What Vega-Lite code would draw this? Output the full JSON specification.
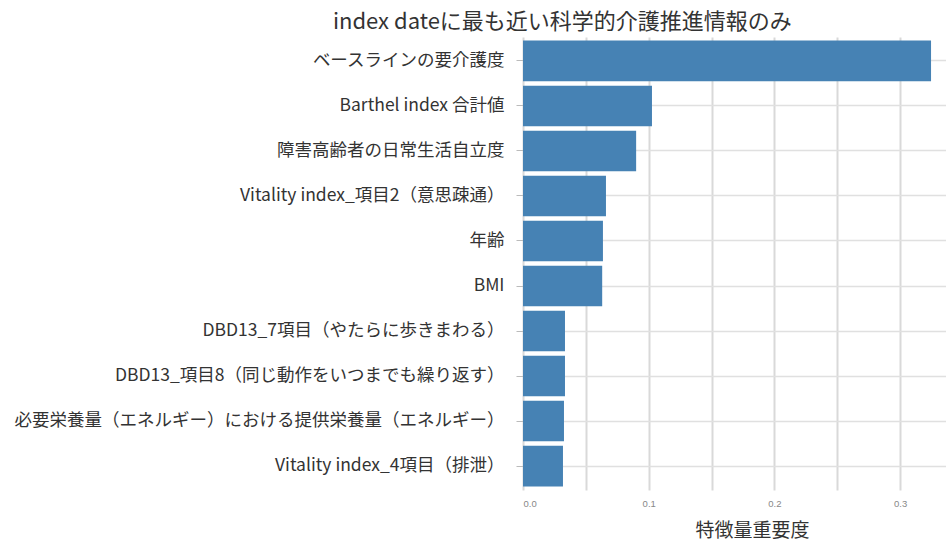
{
  "$schema": "https://vega.github.io/schema/vega-lite/v6.json",
  "autosize": {"type": "none"},
  "width": 423,
  "height": 453,
  "padding": {"left": 523, "top": 37, "right": 0, "bottom": 53},
  "background": "white",
  "config": {
    "font": "Noto Sans CJK JP",
    "view": {"stroke": null}
  },
  "title": {
    "text": "index dateに最も近い科学的介護推進情報のみ",
    "anchor": "start",
    "frame": "group",
    "dx": -190,
    "offset": 3,
    "fontSize": 22,
    "fontWeight": "normal",
    "color": "#333333",
    "font": "Noto Sans CJK JP"
  },
  "data": {
    "values": [
      {"feature": "ベースラインの要介護度", "importance": 0.3246},
      {"feature": "Barthel index 合計値", "importance": 0.1026},
      {"feature": "障害高齢者の日常生活自立度", "importance": 0.090},
      {"feature": "Vitality index_項目2（意思疎通）", "importance": 0.066},
      {"feature": "年齢", "importance": 0.0636},
      {"feature": "BMI", "importance": 0.063},
      {"feature": "DBD13_7項目（やたらに歩きまわる）", "importance": 0.0334},
      {"feature": "DBD13_項目8（同じ動作をいつまでも繰り返す）", "importance": 0.0334},
      {"feature": "必要栄養量（エネルギー）における提供栄養量（エネルギー）", "importance": 0.0326},
      {"feature": "Vitality index_4項目（排泄）", "importance": 0.0318}
    ]
  },
  "mark": {"type": "bar", "color": "#4682b4", "clip": true},
  "encoding": {
    "y": {
      "field": "feature",
      "type": "nominal",
      "sort": null,
      "scale": {"paddingInner": 0.1, "paddingOuter": 0.08},
      "axis": {
        "title": null,
        "bandPosition": 0.5,
        "domain": false,
        "grid": true,
        "gridColor": "#e0e0e0",
        "gridWidth": 1.5,
        "ticks": true,
        "tickSize": 7,
        "tickColor": "#bbbbbb",
        "tickWidth": 1,
        "labelFontSize": 17.5,
        "labelColor": "#333333",
        "labelPadding": 12,
        "labelLimit": 600
      }
    },
    "x": {
      "field": "importance",
      "type": "quantitative",
      "scale": {"domain": [0, 0.3365], "nice": false},
      "axis": {
        "title": "特徴量重要度",
        "titleFontSize": 19,
        "titleFontWeight": "normal",
        "titleColor": "#333333",
        "titleX": 229,
        "titleAlign": "center",
        "titlePadding": 14,
        "values": [0, 0.05, 0.1, 0.15, 0.2, 0.25, 0.3],
        "labelExpr": "round(datum.value * 20) % 2 == 0 ? format(datum.value, '.1f') : ''",
        "domain": false,
        "ticks": false,
        "grid": true,
        "gridColor": "#d9d9d9",
        "gridWidth": 2,
        "labelFontSize": 9.5,
        "labelColor": "#888888",
        "labelPadding": 8,
        "labelFont": "Liberation Sans"
      }
    }
  }
}
